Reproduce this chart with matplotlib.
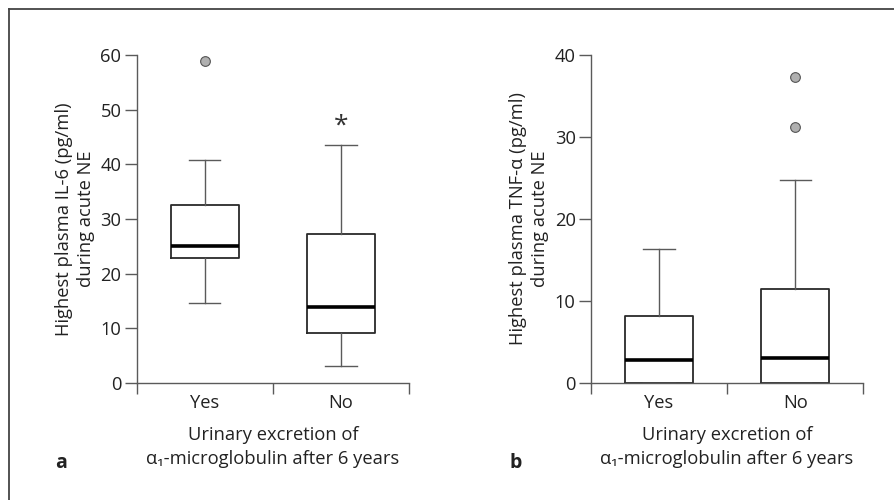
import matplotlib.pyplot as plt
from matplotlib.lines import Line2D

plt.rcParams['font.family'] = ['Open Sans', 'DejaVu Sans']

groups = ['Yes', 'No']

# panel a: IL-6
il6_whislo = [14.7, 3.2]
il6_q1 = [22.8, 9.1]
il6_med = [25.0, 13.9]
il6_q3 = [32.5, 27.2]
il6_whishi = [40.8, 43.5]
il6_fliers = [[58.9], []]

# panel b: TNF-alpha
tnf_whislo = [0.0, 0.0]
tnf_q1 = [0.0, 0.0]
tnf_med = [2.75, 3.0]
tnf_q3 = [8.2, 11.45]
tnf_whishi = [16.4, 24.8]
tnf_fliers = [[], [37.3, 31.2]]

line_col = '#5a5a5a'
box_col = '#2a2a2a'
fs = 13.2


def make_stats(lo, q1, med, q3, hi, fl):
    stats = []
    for i in range(len(groups)):
        stats.append({'whislo': lo[i], 'q1': q1[i], 'med': med[i], 'q3': q3[i],
                      'whishi': hi[i], 'fliers': fl[i], 'label': groups[i]})
    return stats


def draw_panel(ax, stats, ymax, ystep, ylabel, letter):
    ax.bxp(stats, positions=[0.5, 1.5], widths=0.5, capwidths=0.23,
           boxprops=dict(color=box_col, lw=1.3),
           whiskerprops=dict(color=line_col, lw=1.0),
           capprops=dict(color=line_col, lw=1.0),
           medianprops=dict(color='black', lw=2.6),
           flierprops=dict(marker='o', markerfacecolor='#b0b0b0',
                           markeredgecolor='#555555', markersize=7, markeredgewidth=0.8))
    ax.set_xlim(0, 2)
    ax.set_ylim(0, ymax)
    ax.set_yticks(range(0, ymax + 1, ystep))
    ax.set_xticks([0, 1, 2], minor=False)
    ax.set_xticklabels([])
    ax.set_xticks([0.5, 1.5], minor=True)
    ax.set_xticklabels(groups, minor=True)
    ax.tick_params(axis='x', which='major', length=8, color=line_col, width=1)
    ax.tick_params(axis='x', which='minor', length=0, pad=8, labelsize=fs, labelcolor='#222')
    ax.tick_params(axis='y', length=9, color=line_col, width=1, labelsize=fs, labelcolor='#222', pad=2)
    for s in ['top', 'right']:
        ax.spines[s].set_visible(False)
    for s in ['left', 'bottom']:
        ax.spines[s].set_color(line_col)
        ax.spines[s].set_linewidth(1)
        ax.spines[s].set_clip_on(False)
    ax.set_ylabel(ylabel, fontsize=fs, color='#222', labelpad=4, linespacing=1.3)
    ax.set_xlabel('Urinary excretion of\n\u03b1\u2081-microglobulin after 6 years',
                  fontsize=fs, color='#222', labelpad=10, linespacing=1.45)
    ax.text(-0.3, -0.245, letter, transform=ax.transAxes, fontsize=14,
            fontweight='bold', color='#222', va='center')


fig = plt.figure(figsize=(8.94, 5), dpi=100)
ax1 = fig.add_axes([0.1529, 0.234, 0.3046, 0.656])
ax2 = fig.add_axes([0.661, 0.234, 0.3046, 0.656])

draw_panel(ax1, make_stats(il6_whislo, il6_q1, il6_med, il6_q3, il6_whishi, il6_fliers),
           60, 10, 'Highest plasma IL-6 (pg/ml)\nduring acute NE', 'a')
ax1.text(1.5, 47.0, '*', ha='center', va='center', fontsize=19, color='#333')

draw_panel(ax2, make_stats(tnf_whislo, tnf_q1, tnf_med, tnf_q3, tnf_whishi, tnf_fliers),
           40, 10, 'Highest plasma TNF-\u03b1 (pg/ml)\nduring acute NE', 'b')

# outer frame (top and left edges)
fig.add_artist(Line2D([0.0105, 1.0], [0.982, 0.982], transform=fig.transFigure,
                      color='#444', lw=1.3))
fig.add_artist(Line2D([0.0105, 0.0105], [0.0, 0.982], transform=fig.transFigure,
                      color='#444', lw=1.3))

fig.savefig('out.png', dpi=100)
